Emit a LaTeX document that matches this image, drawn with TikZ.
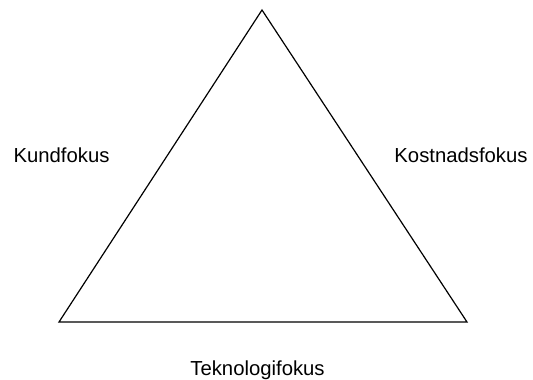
\documentclass[tikz,border=0pt]{standalone}
\usepackage{fontspec}
\setmainfont{Liberation Sans}
\begin{document}
\begin{tikzpicture}[x=1pt,y=-1pt,
  lbl/.style={font=\fontsize{20.3}{23}\selectfont, anchor=base, inner sep=0pt}]
  \useasboundingbox (0,0) rectangle (533,380);
  \coordinate (top) at (262,10);
  \coordinate (bl) at (59,322);
  \coordinate (br) at (467,322);
  \draw[line width=1.2pt, line join=miter] (top) -- (br) -- (bl) -- cycle;
  \node[lbl] (kund) at (61.5,162.5) {Kundfokus};
  \node[lbl] (kost) at (461,162.5) {Kostnadsfokus};
  \node[lbl] (tekn) at (257.5,375) {Teknologifokus};
\end{tikzpicture}
\end{document}
